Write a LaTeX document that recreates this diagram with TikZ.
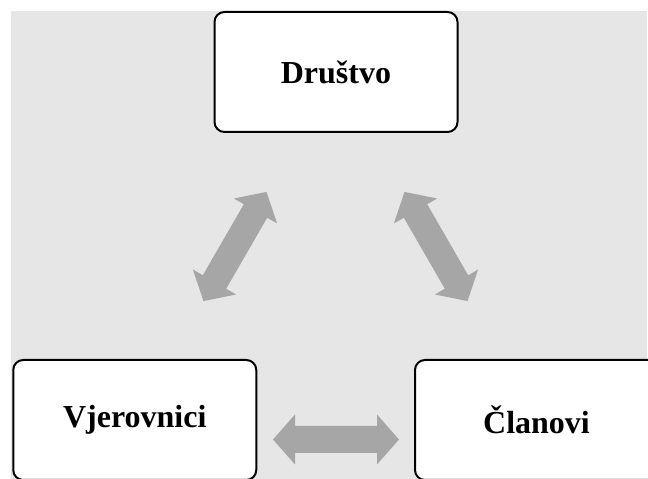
\documentclass[tikz,border=0pt]{standalone}
\usepackage{fontspec}
\setmainfont{Liberation Serif}
\definecolor{bggray}{RGB}{230,230,230}
\definecolor{arrgray}{RGB}{166,166,166}
\tikzset{
  box/.style={draw=black, line width=2pt, rounded corners=10pt, fill=white,
    minimum width=243pt, minimum height=120pt, inner sep=0pt,
    font=\fontsize{32}{38}\selectfont\bfseries},
  blockarrow/.pic={
    \fill[arrgray] (-63,0) -- (-41,25) -- (-41,13.5) -- (41,13.5) -- (41,25) -- (63,0)
      -- (41,-25) -- (41,-13.5) -- (-41,-13.5) -- (-41,-25) -- cycle;
  }
}
\begin{document}
\begin{tikzpicture}[x=1pt,y=1pt]
\useasboundingbox (0,0) rectangle (648,479);
\fill[bggray] (11,0) rectangle (647,468);
\node[box] (drustvo) at (336,407) {Društvo};
\node[box] (vjerovnici) at (134.75,59) {Vjerovnici};
\node[box] (clanovi) at (536.5,59) {Članovi};
\coordinate (aleft) at (235,232.5);
\coordinate (aright) at (436,232.5);
\coordinate (abottom) at (336,39.5);
\pic[rotate=60] at (aleft) {blockarrow};
\pic[rotate=-60] at (aright) {blockarrow};
\pic at (abottom) {blockarrow};
\end{tikzpicture}
\end{document}
